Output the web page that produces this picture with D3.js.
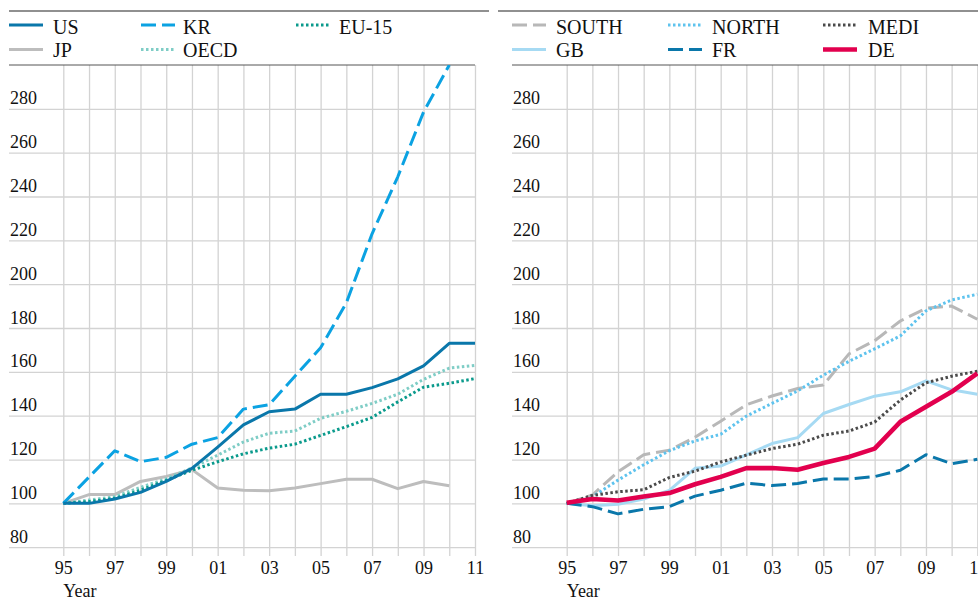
<!DOCTYPE html>
<html>
<head>
<meta charset="utf-8">
<script src="https://cdn.jsdelivr.net/npm/d3@7"></script>
<style>
  html, body { margin: 0; padding: 0; background: #fff; }
  svg { display: block; }
  svg text { font-family: 'Liberation Serif', 'Times New Roman', serif !important; fill: #111; }
</style>
</head>
<body>
<svg id="chart" width="978" height="601"></svg>
<script>
// ---------------- DATA ----------------
const years = [1995,1996,1997,1998,1999,2000,2001,2002,2003,2004,2005,2006,2007,2008,2009,2010,2011];
const xTickYears = [1995,1997,1999,2001,2003,2005,2007,2009,2011];
const xTickLabels = ["95","97","99","01","03","05","07","09","11"];
const yTicks = [80,100,120,140,160,180,200,220,240,260,280];
const xAxisTitle = "Year";

// Left panel series
const US    = [100,100,102,105,110,116,125.7,135.8,141.8,143,149.8,149.8,152.8,156.8,162.7,173,173];
const KR    = [100,112,124,119,121,127,130,143,145,158,171,191.5,223,249,278.5,300,null];
const EU15  = [100,100.8,102.3,106,110.5,115.1,119,122.6,125.2,127,131,135,139.2,146.3,153,154.8,156.9];
const JP    = [100,104,104,110,112.3,115.4,107,106,105.8,107,109,111,111,106.7,110,108,null];
const OECD  = [100,101.5,103,107.3,111.2,116.2,122,128,132,133,138.8,142,145.6,149.8,156.6,161.7,162.9];

// Right panel series
const SOUTH = [100,103.8,114.4,122.2,124.2,130.2,137.5,145,149,152.4,154,168.2,174.2,183.2,189,190,184];
const NORTH = [100,103,110.6,117.6,124,128.5,131.5,139.8,145.6,151.3,158.5,164.8,170.5,176.4,187.8,192.8,195.4];
const MEDI  = [100,103.6,105.3,106.2,111.8,114.7,118.9,122,125,127,131.1,133,137.1,147.1,155,158,160.3];
const GB    = [100,98.9,99.6,102,105.9,116,117,122.1,127.3,130,141,145.1,148.9,150.9,155.9,151.8,149.8];
const FR    = [100,98.5,95.2,97.3,98.5,103.3,106,109.2,108.1,109.1,111.1,111.1,112.2,115.1,122.2,118.1,120.1];
const DE    = [100.3,102,101.3,103.1,104.7,108.7,112.1,116.1,116.1,115.3,118.4,121.2,125,137.2,144.1,150.9,159.3];

// ---------------- STYLES ----------------
const styles = {
  "US":    {color:"#0a77aa", width:3,   dash:null},
  "KR":    {color:"#0ba2e2", width:3,   dash:"15,6"},
  "EU-15": {color:"#0a9a8c", width:3,   dash:"2.5,2.5"},
  "JP":    {color:"#bdbdbd", width:3,   dash:null},
  "OECD":  {color:"#7fcdc6", width:3,   dash:"2.5,2.5"},
  "SOUTH": {color:"#b8b8b8", width:3,   dash:"15,6"},
  "NORTH": {color:"#5ec3ee", width:3,   dash:"2.5,2.5"},
  "MEDI":  {color:"#4a4a4a", width:3,   dash:"2.5,2.5"},
  "GB":    {color:"#a6daf3", width:3,   dash:null},
  "FR":    {color:"#0a77aa", width:3,   dash:"15,6"},
  "DE":    {color:"#e2004e", width:4.6, dash:null}
};

const panels = [
  {
    series: [["JP",JP],["OECD",OECD],["EU-15",EU15],["KR",KR],["US",US]],
    legendRows: [["US","KR","EU-15"],["JP","OECD"]],
    legendCols: [[9,53],[141,183],[296,339]],
    plotX: [9,475], xRange: [63.3,475], topLine: [9,489], labelX: 10
  },
  {
    series: [["SOUTH",SOUTH],["NORTH",NORTH],["GB",GB],["MEDI",MEDI],["FR",FR],["DE",DE]],
    legendRows: [["SOUTH","NORTH","MEDI"],["GB","FR","DE"]],
    legendCols: [[512,556],[668,712],[823,868]],
    plotX: [512,978], xRange: [566.7,977.3], topLine: [498,978], labelX: 513
  }
];

// ---------------- DRAW ----------------
const svg = d3.select("#chart");
const FONT = "'Liberation Serif', 'Times New Roman', serif";
const plotTop = 65, gridBottom = 556;
const y = d3.scaleLinear().domain([80,300]).range([547.2,65]);

panels.forEach((p, pi) => {
  const x = d3.scaleLinear().domain([years[0], years[years.length-1]]).range(p.xRange);
  const g = svg.append("g");

  // top rule
  g.append("line").attr("x1",p.topLine[0]).attr("x2",p.topLine[1])
    .attr("y1",11).attr("y2",11).attr("stroke","#222").attr("stroke-width",1.2);

  // vertical grid + x labels
  const xAxis = d3.axisBottom(x)
    .tickValues(years)
    .tickSizeInner(-(gridBottom-plotTop))
    .tickSizeOuter(0)
    .tickFormat(d => { const i = xTickYears.indexOf(d); return i >= 0 ? xTickLabels[i] : ""; });
  const gx = g.append("g").attr("transform",`translate(0,${gridBottom})`).call(xAxis)
    .attr("font-family", null).attr("font-size", null);
  gx.select(".domain").remove();
  gx.selectAll(".tick line").attr("stroke","#d3d3d3").attr("stroke-width",1.3);
  gx.selectAll(".tick text").attr("y",18).attr("dy",0)
    .style("font-size","18px").style("font-family",FONT).attr("fill","#111");

  // horizontal grid + y labels
  const yAxis = d3.axisLeft(y)
    .tickValues(yTicks)
    .tickSizeInner(-(p.plotX[1]-p.plotX[0]))
    .tickSizeOuter(0)
    .tickFormat(d3.format("d"));
  const gy = g.append("g").attr("transform",`translate(${p.plotX[0]},0)`).call(yAxis)
    .attr("font-family", null).attr("font-size", null);
  gy.select(".domain").remove();
  gy.selectAll(".tick line").attr("stroke","#d3d3d3").attr("stroke-width",1.3);
  gy.selectAll(".tick text").attr("x",p.labelX - p.plotX[0]).attr("dy",-5)
    .attr("text-anchor","start")
    .style("font-size","18px").style("font-family",FONT).attr("fill","#111");

  // plot top border
  g.append("line").attr("x1",p.plotX[0]).attr("x2",p.plotX[1])
    .attr("y1",plotTop).attr("y2",plotTop).attr("stroke","#555").attr("stroke-width",1);

  // x title
  g.append("text").attr("x",p.xRange[0]).attr("y",597)
    .style("font-size","18px").style("font-family",FONT).text(xAxisTitle);

  // clip
  const clipId = "clip"+pi;
  svg.append("clipPath").attr("id",clipId).append("rect")
    .attr("x",p.plotX[0]).attr("y",plotTop).attr("width",p.plotX[1]-p.plotX[0]+2).attr("height",gridBottom-plotTop);

  const line = d3.line()
    .defined(d => d[1] !== null)
    .x(d => x(d[0])).y(d => y(d[1]));

  const lg = g.append("g").attr("clip-path",`url(#${clipId})`);
  p.series.forEach(([name, vals]) => {
    const s = styles[name];
    lg.append("path")
      .datum(years.map((yr,i) => [yr, vals[i]]))
      .attr("d", line)
      .attr("fill","none")
      .attr("stroke", s.color)
      .attr("stroke-width", s.width)
      .attr("stroke-dasharray", s.dash)
      .attr("stroke-linejoin","round");
  });

  // legend
  const rowY = [25, 49.5], rowText = [34, 57];
  p.legendRows.forEach((row, ri) => {
    row.forEach((name, ci) => {
      const s = styles[name];
      const [sx, tx] = p.legendCols[ci];
      g.append("line").attr("x1",sx).attr("x2",sx+34)
        .attr("y1",rowY[ri]).attr("y2",rowY[ri])
        .attr("stroke",s.color).attr("stroke-width",s.width)
        .attr("stroke-dasharray",s.dash);
      g.append("text").attr("x",tx).attr("y",rowText[ri])
        .style("font-size","20px").style("font-family",FONT).text(name);
    });
  });
});
</script>
</body>
</html>
